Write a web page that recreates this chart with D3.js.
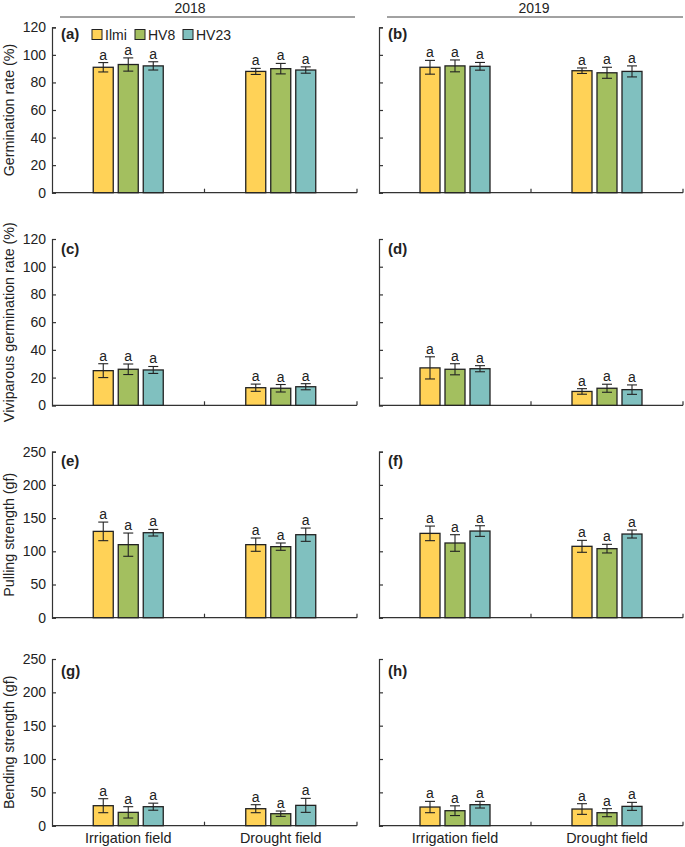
<!DOCTYPE html>
<html>
<head>
<meta charset="utf-8">
<script src="https://cdn.jsdelivr.net/npm/d3@7"></script>
<style>
  html, body { margin: 0; padding: 0; background: #fff; }
  svg text { font-family: "Liberation Sans", Arial, sans-serif; fill: #222; }
</style>
</head>
<body>
<svg id="chart" width="685" height="847"></svg>
<script>
// ---------- data ----------
const years = ["2018", "2019"];
const fields = ["Irrigation field", "Drought field"];
const cultivars = ["Ilmi", "HV8", "HV23"];
const panelLetters = ["(a)", "(b)", "(c)", "(d)", "(e)", "(f)", "(g)", "(h)"];
const yTitles = ["Germination rate (%)", "Viviparous germination rate (%)", "Pulling strength (gf)", "Bending strength (gf)"];
const yMaxes = [120, 120, 250, 250];
const yTickSteps = [20, 20, 50, 50];

// values: [field][cultivar]
const germ2018 = [[91, 93, 92], [88, 90, 89]];
const germ2018Err = [[3.4, 4.8, 3.0], [2.2, 3.8, 2.3]];
const germ2019 = [[91, 92, 91.7], [88.5, 87, 88]];
const germ2019Err = [[5.0, 4.3, 2.8], [2.0, 4.0, 4.0]];
const vivi2018 = [[25, 26, 25.5], [12.7, 12.3, 13.4]];
const vivi2018Err = [[5.0, 3.8, 2.5], [2.6, 2.7, 2.2]];
const vivi2019 = [[27, 26, 26.4], [10, 12.3, 11.3]];
const vivi2019Err = [[8.0, 4.0, 2.2], [2.0, 2.9, 3.4]];
const pull2018 = [[130, 110, 128], [110, 107, 125]];
const pull2018Err = [[14, 17.5, 5], [10, 5.5, 10]];
const pull2019 = [[127, 112.5, 130.5], [107.5, 104, 126]];
const pull2019Err = [[11, 12.5, 8], [9, 6.5, 6]];
const bend2018 = [[30, 20, 28.5], [25.5, 18, 30.5]];
const bend2018Err = [[10.5, 8.5, 5.3], [6, 4, 10.5]];
const bend2019 = [[28, 22.5, 31.5], [25, 19.5, 29]];
const bend2019Err = [[8.5, 7.3, 5], [8, 6, 6]];
const sigLetters = [["a", "a", "a"], ["a", "a", "a"]];

const panels = [
  [germ2018, germ2018Err], [germ2019, germ2019Err],
  [vivi2018, vivi2018Err], [vivi2019, vivi2019Err],
  [pull2018, pull2018Err], [pull2019, pull2019Err],
  [bend2018, bend2018Err], [bend2019, bend2019Err]
];

// ---------- layout ----------
const colors = ["#FFD257", "#A3BF5F", "#80C0BF"];
const colX = [[52, 357], [379, 683]];
const rowY = [[27.3, 192.7], [239, 405.3], [451.7, 617.7], [659, 825.7]];
const labelOffset = [11.5, 15, 14.5, 17];
const axisColor = "#333";

const svg = d3.select("#chart");

// year headers
years.forEach((yr, c) => {
  const [x0, x1] = c === 0 ? [60, 355] : [387, 683];
  svg.append("line").attr("x1", x0).attr("x2", x1).attr("y1", 17).attr("y2", 17)
    .attr("stroke", "#444").attr("stroke-width", 1);
  svg.append("text").attr("x", c === 0 ? 190 : 534).attr("y", 12.5)
    .attr("text-anchor", "middle").attr("font-size", 14).text(yr);
});

panels.forEach(([vals, errs], i) => {
  const row = Math.floor(i / 2), col = i % 2;
  const [x0, x1] = colX[col];
  const [yTop, yBot] = rowY[row];
  const g = svg.append("g");

  const x = d3.scaleBand().domain(fields).range([x0, x1]).padding(0);
  const xs = d3.scaleBand().domain(cultivars).range([-37.5, 37.5]).paddingInner(0.2).paddingOuter(0.1);
  const y = d3.scaleLinear().domain([0, yMaxes[row]]).range([yBot, yTop]);

  // y axis
  const yAxis = d3.axisLeft(y)
    .tickValues(d3.range(0, yMaxes[row] + 1, yTickSteps[row]))
    .tickSizeInner(-4).tickSizeOuter(-4).tickPadding(6);
  if (col === 1) yAxis.tickFormat("");
  const ya = g.append("g").attr("transform", `translate(${x0},0)`).call(yAxis);
  ya.selectAll("path, line").attr("stroke", axisColor).attr("stroke-width", 1.2);
  ya.selectAll("text").attr("font-size", 14).attr("fill", "#222")
    .style("font-family", '"Liberation Sans", Arial, sans-serif');

  // x axis: baseline with inward ticks at band boundaries
  g.append("line").attr("x1", x0).attr("x2", x1).attr("y1", yBot).attr("y2", yBot)
    .attr("stroke", axisColor).attr("stroke-width", 1.2);
  g.selectAll(".xt").data(fields).join("line")
    .attr("x1", d => x(d) + x.bandwidth()).attr("x2", d => x(d) + x.bandwidth())
    .attr("y1", yBot).attr("y2", yBot - 4)
    .attr("stroke", axisColor).attr("stroke-width", 1.2);

  // bars
  fields.forEach((f, fi) => {
    const cx = x(f) + x.bandwidth() / 2;
    cultivars.forEach((cv, ci) => {
      const v = vals[fi][ci], e = errs[fi][ci];
      const bx = cx + xs(cv);
      const bw = xs.bandwidth();
      g.append("rect").attr("x", bx).attr("y", y(v)).attr("width", bw).attr("height", yBot - y(v))
        .attr("fill", colors[ci]).attr("stroke", "#222").attr("stroke-width", 1.3);
      const mx = bx + bw / 2;
      const eg = g.append("g").attr("stroke", "#222").attr("stroke-width", 1.1);
      eg.append("line").attr("x1", mx).attr("x2", mx).attr("y1", y(v + e)).attr("y2", y(v - e));
      eg.append("line").attr("x1", mx - 5).attr("x2", mx + 5).attr("y1", y(v + e)).attr("y2", y(v + e));
      eg.append("line").attr("x1", mx - 5).attr("x2", mx + 5).attr("y1", y(v - e)).attr("y2", y(v - e));
      g.append("text").attr("x", mx).attr("y", y(v + e) - 3).attr("text-anchor", "middle")
        .attr("font-size", 14).attr("fill", "#333").text(sigLetters[fi][ci]);
    });
  });

  // panel letter
  g.append("text").attr("x", x0 + 9).attr("y", yTop + labelOffset[row])
    .attr("font-size", 15).attr("font-weight", "bold").text(panelLetters[i]);

  // y title
  if (col === 0) {
    g.append("text").attr("transform", `translate(13.5,${(yTop + yBot) / 2}) rotate(-90)`)
      .attr("text-anchor", "middle").attr("font-size", 14.3).text(yTitles[row]);
  }

  // category labels
  if (row === 3) {
    g.selectAll(".xl").data(fields).join("text")
      .attr("x", d => x(d) + x.bandwidth() / 2).attr("y", 843)
      .attr("text-anchor", "middle").attr("font-size", 14.4).text(d => d);
  }

  // legend
  if (i === 0) {
    const legX = [92, 135, 183];
    cultivars.forEach((cv, ci) => {
      g.append("rect").attr("x", legX[ci]).attr("y", 29.5).attr("width", 10).attr("height", 10)
        .attr("fill", colors[ci]).attr("stroke", "#222").attr("stroke-width", 1);
      g.append("text").attr("x", legX[ci] + 13).attr("y", 39.5).attr("font-size", 14).text(cv);
    });
  }
});
</script>
</body>
</html>
